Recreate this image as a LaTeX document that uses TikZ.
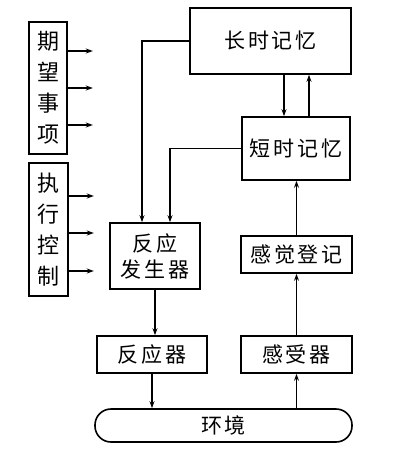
\documentclass[tikz,border=0pt]{standalone}
\usepackage{fontspec}
\newfontfamily\cjk[LetterSpace=14]{Noto Sans CJK SC}
\newfontfamily\cjkv{Noto Sans CJK SC}
\usetikzlibrary{arrows.meta}
\begin{document}
\begin{tikzpicture}[x=1pt,y=-1pt,
  box/.style={draw,line width=1.6pt,inner sep=0pt,align=center,font=\cjk\fontsize{21}{26}\selectfont},
  vbox/.style={draw,line width=1.6pt,inner sep=0pt,align=center,font=\cjkv\fontsize{22}{31}\selectfont},
  arr/.style={line width=1.3pt,-{Stealth[length=7pt,width=5pt]}}]
\useasboundingbox (0,0) rectangle (400,460);
\node[vbox,minimum width=38pt,minimum height=132pt] (exp) at (48,88) {期\\望\\事\\项};
\node[vbox,minimum width=39pt,minimum height=133pt] (exec) at (48.5,229.5) {执\\行\\控\\制};
\node[box,minimum width=161pt,minimum height=66pt] (ltm) at (270.5,41) {长时记忆};
\node[box,minimum width=108pt,minimum height=63pt] (stm) at (296,148.5) {短时记忆};
\node[box,minimum width=111pt,minimum height=37pt] (sens) at (296.5,254.5) {感觉登记};
\node[box,minimum width=111pt,minimum height=37pt] (rec) at (296.5,354.5) {感受器};
\node[box,minimum width=90pt,minimum height=66pt] (rg) at (155,256) {反应\\发生器};
\node[box,minimum width=110pt,minimum height=37pt] (resp) at (152,354.5) {反应器};
\node[box,minimum width=257pt,minimum height=33pt,rounded corners=16pt] (env) at (223.5,425.5) {环境};
% left arrows
\draw[arr] (exp.east |- {(0,51)}) -- ++(25,0);
\draw[arr] (exp.east |- {(0,88)}) -- ++(25,0);
\draw[arr] (exp.east |- {(0,125)}) -- ++(25,0);
\draw[arr] (exec.east |- {(0,196)}) -- ++(25,0);
\draw[arr] (exec.east |- {(0,233)}) -- ++(25,0);
\draw[arr] (exec.east |- {(0,271)}) -- ++(25,0);
% memory to response generator
\draw[arr] (ltm.west) -| ([xshift=-13pt]rg.north);
\draw[arr] (stm.west) -| ([xshift=15pt]rg.north);
% ltm <-> stm
\draw[arr] ([xshift=-12pt]stm.north |- ltm.south) -- ([xshift=-12pt]stm.north);
\draw[arr] ([xshift=13pt]stm.north) -- ([xshift=13pt]stm.north |- ltm.south);
% sensory chain
\draw[arr] (sens.north) -- (sens.north |- stm.south);
\draw[arr] (rec.north) -- (rec.north |- sens.south);
\draw[arr] (rec.south |- env.north) -- (rec.south);
% response chain
\draw[arr] (rg.south) -- (rg.south |- resp.north);
\draw[arr] (resp.south) -- (resp.south |- env.north);
\end{tikzpicture}
\end{document}
